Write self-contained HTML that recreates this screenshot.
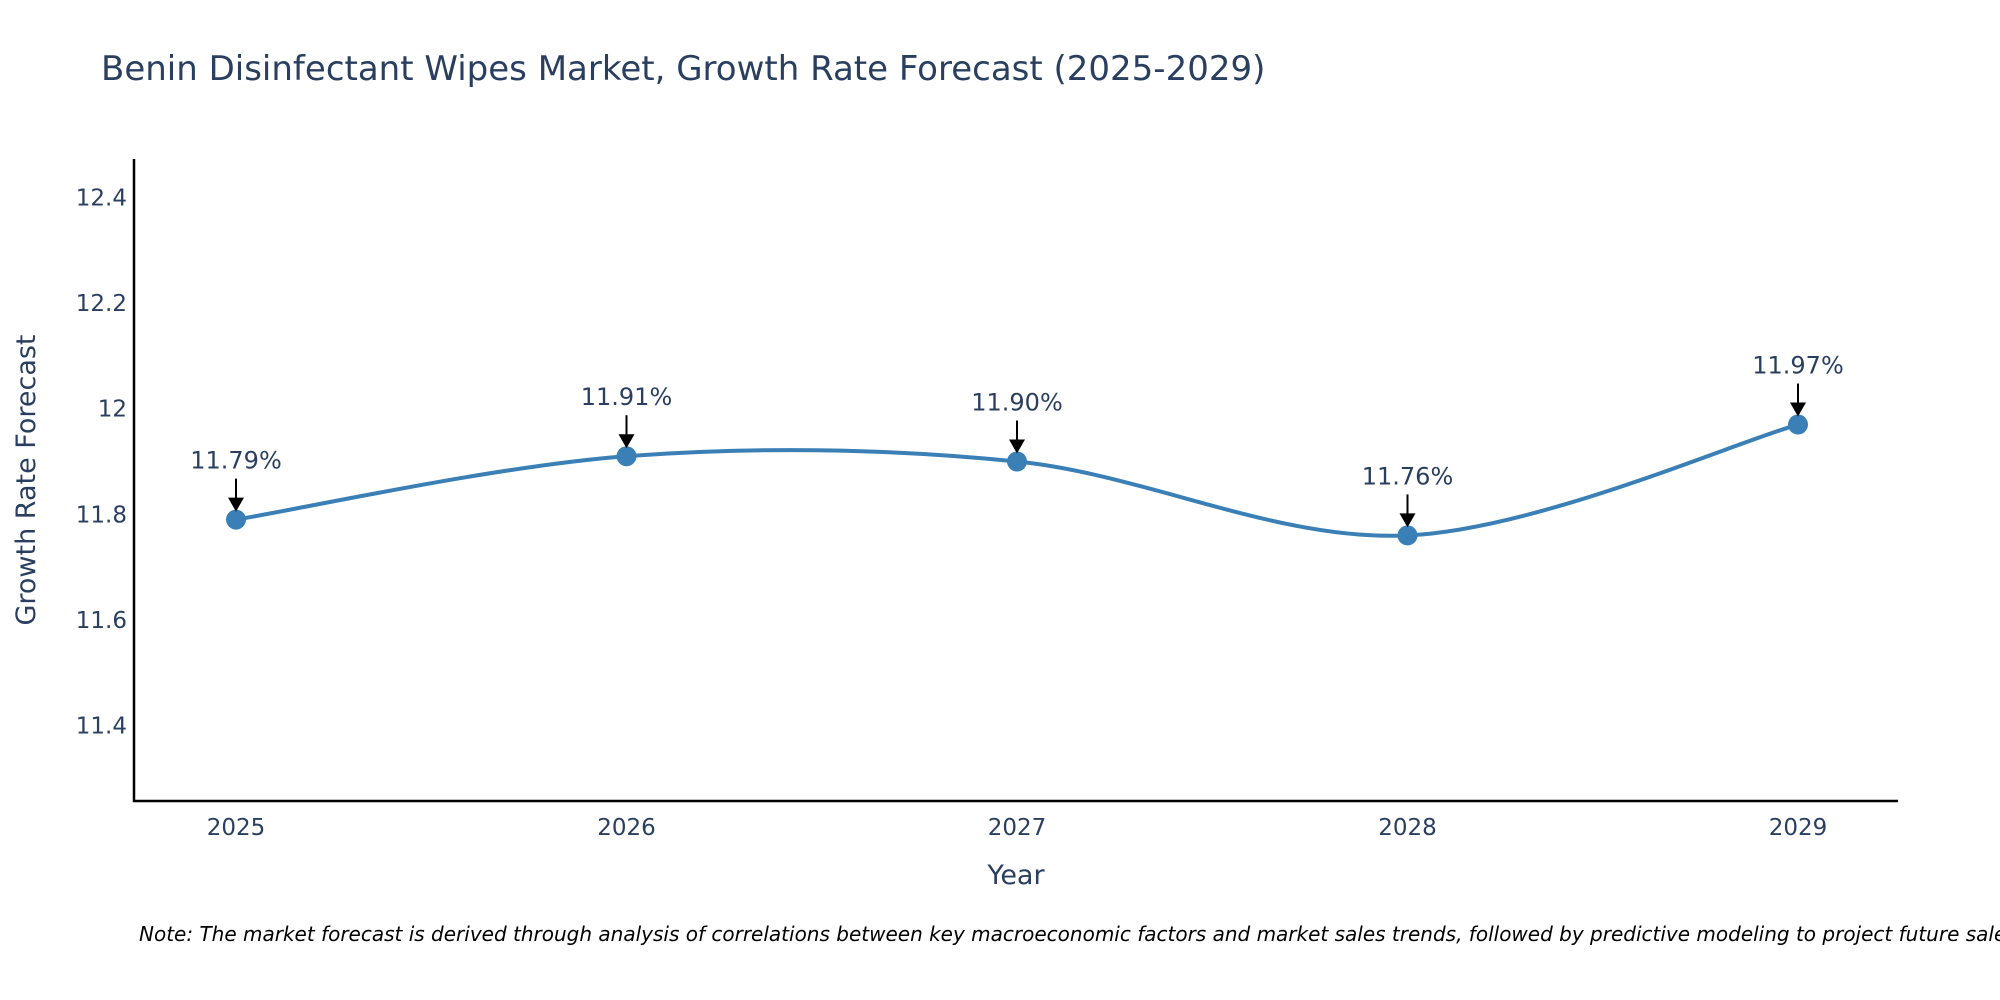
<!DOCTYPE html>
<html><head><meta charset="utf-8">
<style>
html,body{margin:0;padding:0;background:#fff;}
svg{display:block;font-family:"DejaVu Sans","Liberation Sans",sans-serif;}
</style></head>
<body>
<svg id="chart" width="2000" height="1000" viewBox="0 0 2000 1000" xmlns="http://www.w3.org/2000/svg">
<rect width="2000" height="1000" fill="#fff"/>
<text x="101" y="80" font-size="34" fill="#2a3f5f">Benin Disinfectant Wipes Market, Growth Rate Forecast (2025-2029)</text>
<g id="yticks"></g><g id="xticks"></g>
<line x1="134" y1="159" x2="134" y2="802" stroke="#000" stroke-width="2.5"/>
<line x1="133" y1="801" x2="1898" y2="801" stroke="#000" stroke-width="2.5"/>
<path id="line" fill="none" stroke="#3a7fb5" stroke-width="4"/>
<g id="points"></g><g id="annos"></g>
<text transform="translate(35,480) rotate(-90)" text-anchor="middle" font-size="27" fill="#2a3f5f">Growth Rate Forecast</text>
<text x="1016" y="884" text-anchor="middle" font-size="27" fill="#2a3f5f">Year</text>
<text x="139" y="941" font-size="20" font-style="italic" fill="#000">Note: The market forecast is derived through analysis of correlations between key macroeconomic factors and market sales trends, followed by predictive modeling to project future sales.</text>
</svg>
<script>
const years=[2025,2026,2027,2028,2029];
const values=[11.79,11.91,11.90,11.76,11.97];
const labels=["11.79%","11.91%","11.90%","11.76%","11.97%"];
const yTicks=[11.4,11.6,11.8,12,12.2,12.4];
const yTickLabels=["11.4","11.6","11.8","12","12.2","12.4"];
const NS="http://www.w3.org/2000/svg";
const x=v=>236+(v-2025)*390.5;
const y=v=>725.5-(v-11.4)*528;
function el(t,a,p){const e=document.createElementNS(NS,t);for(const k in a)e.setAttribute(k,a[k]);p.appendChild(e);return e;}
const yt=document.getElementById('yticks');
yTicks.forEach((t,i)=>{const e=el('text',{x:127,y:y(t)+8,'text-anchor':'end','font-size':23,fill:'#2a3f5f'},yt);


e.textContent=yTickLabels[i];});
const xt=document.getElementById('xticks');
years.forEach(t=>{const e=el('text',{x:x(t),y:835,'text-anchor':'middle','font-size':23,fill:'#2a3f5f'},xt);


e.textContent=t;});
const P=years.map((t,i)=>[x(t),y(values[i])]);
let d='M'+P[0][0]+','+P[0][1];
for(let i=0;i<P.length-1;i++){const p0=P[i-1]||P[i],p1=P[i],p2=P[i+1],p3=P[i+2]||P[i+1];const s=1/6;
d+=' C'+(p1[0]+(p2[0]-p0[0])*s)+','+(p1[1]+(p2[1]-p0[1])*s)+' '+(p2[0]-(p3[0]-p1[0])*s)+','+(p2[1]-(p3[1]-p1[1])*s)+' '+p2[0]+','+p2[1];}
document.getElementById('line').setAttribute('d',d);
const pg=document.getElementById('points'),ag=document.getElementById('annos');
P.forEach((p,i)=>{const c=el('circle',{cx:p[0],cy:p[1],r:10,fill:'#3a7fb5'},pg);


const l=el('line',{x1:p[0],y1:p[1]-41,x2:p[0],y2:p[1]-18,stroke:'#000','stroke-width':2},ag);


const h=el('path',{d:`M${p[0]-8},${p[1]-22} L${p[0]+8},${p[1]-22} L${p[0]},${p[1]-8} Z`,fill:'#000'},ag);


const t=el('text',{x:p[0],y:p[1]-51,'text-anchor':'middle','font-size':24,fill:'#2a3f5f'},ag);


t.textContent=labels[i];});
</script>
</body></html>
